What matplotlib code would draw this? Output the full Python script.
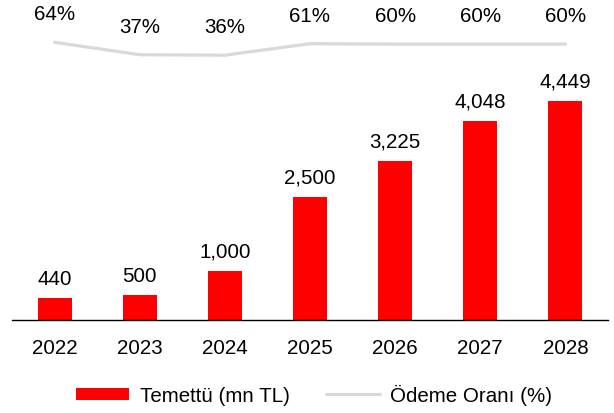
import matplotlib
matplotlib.use("Agg")
import matplotlib.pyplot as plt
import numpy as np

plt.rcParams['font.family'] = ['Liberation Sans', 'DejaVu Sans']

years = ["2022", "2023", "2024", "2025", "2026", "2027", "2028"]
dividends = [440, 500, 1000, 2500, 3225, 4048, 4449]
payout = [64, 37, 36, 61, 60, 60, 60]
dividend_labels = ["440", "500", "1,000", "2,500", "3,225", "4,048", "4,449"]
payout_labels = ["64%", "37%", "36%", "61%", "60%", "60%", "60%"]

W, H = 614, 414
fig = plt.figure(figsize=(W / 100, H / 100), dpi=100)
ax_left, ax_right, ax_bottom, ax_top = 12, 608, 93, 414
ax = fig.add_axes([ax_left / W, ax_bottom / H, (ax_right - ax_left) / W, (ax_top - ax_bottom) / H])
ax2 = ax.twinx()

x = np.arange(len(years))
fs = 14.8
bars = ax.bar(x, dividends, width=0.40, color='#ff0000', label='Temettü (mn TL)', zorder=2)
ax.set_xlim(-0.5, 6.5)
ax.set_ylim(0, 6522)
for xi, v, lab in zip(x, dividends, dividend_labels):
    ax.annotate(lab, (xi, v), xytext=(0, 7.5), textcoords='offset points',
                ha='center', va='bottom', fontsize=fs, color='#000000')

line, = ax2.plot(x, payout, color='#d9d9d9', linewidth=2.3, solid_capstyle='round',
                 label='Ödeme Oranı (%)')
ax2.set_ylim(-540.6, 158.3)
for xi, v, lab in zip(x, payout, payout_labels):
    ax2.annotate(lab, (xi, v), xytext=(0, 20.5), textcoords='offset points',
                 ha='center', va='center', fontsize=fs, color='#000000')

for a in (ax, ax2):
    for s in ('top', 'right', 'left'):
        a.spines[s].set_visible(False)
    a.set_yticks([])
ax2.spines['bottom'].set_visible(False)
ax.spines['bottom'].set_color('#000000')
ax.spines['bottom'].set_linewidth(1.0)
ax.set_xticks(x)
ax.set_xticklabels(years, fontsize=fs)
ax.tick_params(axis='x', length=0, pad=13)

fig.legend([bars, line], ['Temettü (mn TL)', 'Ödeme Oranı (%)'], loc='center',
           bbox_to_anchor=(314 / W, 18.5 / H), ncol=2, frameon=False, fontsize=fs,
           handlelength=2.6, handleheight=0.55, handletextpad=0.5, columnspacing=1.8)

fig.savefig('out.png', dpi=100)
